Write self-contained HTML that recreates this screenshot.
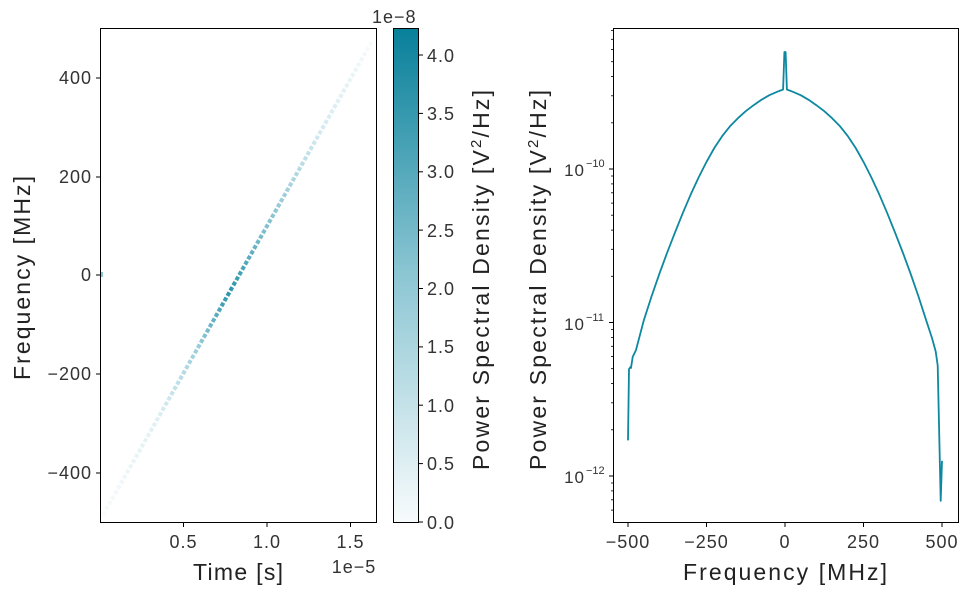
<!DOCTYPE html>
<html><head><meta charset="utf-8"><style>
html,body{margin:0;padding:0;background:#fff;}
svg{display:block;font-family:"Liberation Sans",sans-serif;}
</style></head><body>
<svg width="972" height="592" viewBox="0 0 972 592" xmlns="http://www.w3.org/2000/svg">
<defs>
<linearGradient id="cb" x1="0" y1="1" x2="0" y2="0">
<stop offset="0" stop-color="#f7fbfc"/><stop offset="0.5" stop-color="#8cc6d3"/><stop offset="1" stop-color="#08809a"/>
</linearGradient>
<linearGradient id="dg" gradientUnits="userSpaceOnUse" x1="103" y1="515" x2="372" y2="41">
<stop offset="0" stop-color="#f7fbfc"/>
<stop offset="0.2" stop-color="#e0f0f4"/>
<stop offset="0.35" stop-color="#9dcfdb"/>
<stop offset="0.47" stop-color="#2a94ab"/>
<stop offset="0.6" stop-color="#80bfcd"/>
<stop offset="0.8" stop-color="#d2e9ef"/>
<stop offset="1" stop-color="#f7fbfc"/>
</linearGradient>
</defs>

<!-- Left heatmap -->
<line x1="103" y1="515" x2="372" y2="41" stroke="url(#dg)" stroke-width="4" stroke-dasharray="4 2"/>
<rect x="100" y="272" width="3" height="5" fill="#8cc6d3"/>
<rect x="100.5" y="28.5" width="276" height="494" fill="none" stroke="#000" stroke-width="1"/>
<g stroke="#000" stroke-width="1">
<line x1="96" y1="78" x2="100" y2="78"/><line x1="96" y1="177" x2="100" y2="177"/>
<line x1="96" y1="275" x2="100" y2="275"/><line x1="96" y1="374" x2="100" y2="374"/>
<line x1="96" y1="473" x2="100" y2="473"/>
<line x1="183.5" y1="523" x2="183.5" y2="527"/><line x1="267" y1="523" x2="267" y2="527"/><line x1="350.5" y1="523" x2="350.5" y2="527"/>
</g>
<g font-size="18" fill="#333" text-anchor="end" letter-spacing="1">
<text x="92" y="84">400</text><text x="92" y="183">200</text><text x="92" y="281">0</text>
<text x="92" y="380">−200</text><text x="92" y="479">−400</text>
</g>
<g font-size="18" fill="#333" text-anchor="middle" letter-spacing="1">
<text x="183.5" y="548">0.5</text><text x="267" y="548">1.0</text><text x="350.5" y="548">1.5</text>
<text x="354" y="573">1e−5</text>
</g>
<text x="193" y="580" font-size="23" fill="#222" textLength="90" lengthAdjust="spacing">Time [s]</text>
<text transform="translate(30,380) rotate(-90)" font-size="23" fill="#222" textLength="204" lengthAdjust="spacing">Frequency [MHz]</text>

<!-- Colorbar -->
<rect x="393" y="28" width="25" height="494" fill="url(#cb)"/>
<rect x="393.5" y="28.5" width="25" height="494" fill="none" stroke="#000"/>
<g stroke="#000">
<line x1="419" y1="522" x2="423" y2="522"/><line x1="419" y1="463.6" x2="423" y2="463.6"/>
<line x1="419" y1="405.2" x2="423" y2="405.2"/><line x1="419" y1="346.9" x2="423" y2="346.9"/>
<line x1="419" y1="288.5" x2="423" y2="288.5"/><line x1="419" y1="230.1" x2="423" y2="230.1"/>
<line x1="419" y1="171.8" x2="423" y2="171.8"/><line x1="419" y1="113.4" x2="423" y2="113.4"/>
<line x1="419" y1="55" x2="423" y2="55"/>
</g>
<g font-size="18" fill="#333" letter-spacing="1">
<text x="427" y="529">0.0</text><text x="427" y="470">0.5</text><text x="427" y="412">1.0</text>
<text x="427" y="353">1.5</text><text x="427" y="295">2.0</text><text x="427" y="237">2.5</text>
<text x="427" y="178">3.0</text><text x="427" y="120">3.5</text><text x="427" y="62">4.0</text>
<text x="372" y="23">1e−8</text>
</g>
<text transform="translate(489,470) rotate(-90)" font-size="23" fill="#222" textLength="380" lengthAdjust="spacing">Power Spectral Density [V<tspan font-size="15" dy="-8">2</tspan><tspan dy="8">/Hz]</tspan></text>

<!-- Right PSD -->
<rect x="613.5" y="28.5" width="345" height="494" fill="none" stroke="#000"/>
<g stroke="#000">
<line x1="628" y1="523" x2="628" y2="527"/><line x1="706.5" y1="523" x2="706.5" y2="527"/>
<line x1="785" y1="523" x2="785" y2="527"/><line x1="863.5" y1="523" x2="863.5" y2="527"/>
<line x1="942" y1="523" x2="942" y2="527"/>
<line x1="609" y1="169" x2="613" y2="169"/><line x1="609" y1="322.5" x2="613" y2="322.5"/><line x1="609" y1="476" x2="613" y2="476"/>
<g stroke-width="0.8">
<line x1="611" y1="122.8" x2="613" y2="122.8"/><line x1="611" y1="95.8" x2="613" y2="95.8"/><line x1="611" y1="76.6" x2="613" y2="76.6"/>
<line x1="611" y1="61.7" x2="613" y2="61.7"/><line x1="611" y1="49.6" x2="613" y2="49.6"/><line x1="611" y1="39.3" x2="613" y2="39.3"/><line x1="611" y1="30.4" x2="613" y2="30.4"/>
<line x1="611" y1="276.3" x2="613" y2="276.3"/><line x1="611" y1="249.3" x2="613" y2="249.3"/><line x1="611" y1="230.1" x2="613" y2="230.1"/>
<line x1="611" y1="215.2" x2="613" y2="215.2"/><line x1="611" y1="203.1" x2="613" y2="203.1"/><line x1="611" y1="192.8" x2="613" y2="192.8"/>
<line x1="611" y1="183.9" x2="613" y2="183.9"/><line x1="611" y1="176" x2="613" y2="176"/>
<line x1="611" y1="429.8" x2="613" y2="429.8"/><line x1="611" y1="402.8" x2="613" y2="402.8"/><line x1="611" y1="383.6" x2="613" y2="383.6"/>
<line x1="611" y1="368.7" x2="613" y2="368.7"/><line x1="611" y1="356.6" x2="613" y2="356.6"/><line x1="611" y1="346.3" x2="613" y2="346.3"/>
<line x1="611" y1="337.4" x2="613" y2="337.4"/><line x1="611" y1="329.5" x2="613" y2="329.5"/>
<line x1="611" y1="510.1" x2="613" y2="510.1"/><line x1="611" y1="499.8" x2="613" y2="499.8"/><line x1="611" y1="490.9" x2="613" y2="490.9"/><line x1="611" y1="483" x2="613" y2="483"/>
</g>
</g>
<g font-size="18" fill="#333" text-anchor="middle" letter-spacing="1">
<text x="628" y="548">−500</text><text x="706.5" y="548">−250</text><text x="785" y="548">0</text>
<text x="863.5" y="548">250</text><text x="942" y="548">500</text>
</g>
<g font-size="17" fill="#333" text-anchor="end" letter-spacing="1">
<text x="585" y="176">10</text><text x="585" y="330">10</text><text x="585" y="483">10</text>
</g>
<g font-size="11" fill="#333">
<text x="586" y="167">−10</text><text x="586" y="321">−11</text><text x="586" y="474">−12</text>
</g>
<text x="683" y="580" font-size="23" fill="#222" textLength="204" lengthAdjust="spacing">Frequency [MHz]</text>
<text transform="translate(546,470) rotate(-90)" font-size="23" fill="#222" textLength="380" lengthAdjust="spacing">Power Spectral Density [V<tspan font-size="15" dy="-8">2</tspan><tspan dy="8">/Hz]</tspan></text>

<polyline fill="none" stroke="#0d88a0" stroke-width="1.8" stroke-linejoin="round" points="
628,440.4 629,369 630.5,367 631,368 632.7,356.9 636,350 643.7,320.7 651.5,296.5 659.4,273.7 667.2,252.5 675.1,232.2 682.9,212.8 690.8,194.3
698.6,177.5 706.5,161.9 714.3,148 722.2,136.1 730,126.3 737.9,118.2 745.7,111.2 753.6,105.2 761.4,99.8 769.3,95.2 777.1,91.8 783.1,89.5
784.4,52 785.6,52 786.9,89.5 792.9,91.8 800.7,95.2 808.6,99.8 816.4,105.2 824.3,111.2 832.1,118.2 840,126.3 847.8,136.1 855.7,148 863.5,161.9
871.4,177.5 879.2,194.3 887.1,212.8 894.9,232.2 902.8,252.5 910.6,273.7 918.5,296.5 926.3,320.7 932,338 935.7,351.5 937.7,365.5 940.7,500.8 942,460.8"/>
</svg>
</body></html>
